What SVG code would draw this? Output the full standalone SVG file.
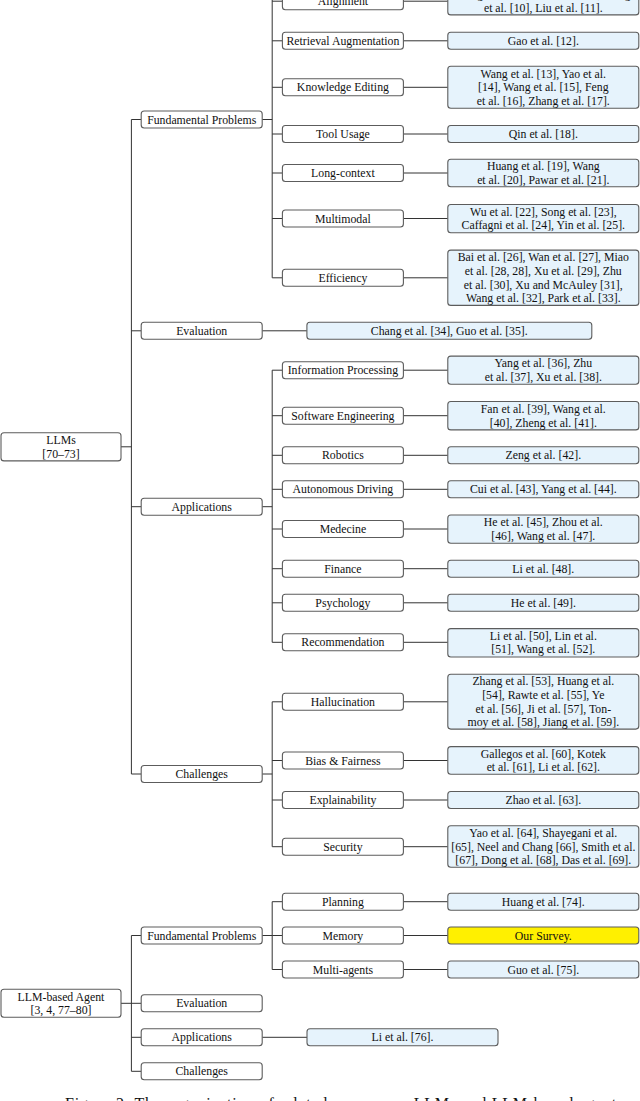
<svg xmlns="http://www.w3.org/2000/svg" width="640" height="1101" viewBox="0 0 640 1101">
<style>
.b{fill:#fff;stroke:#5c5c5c;stroke-width:1.1}
.r{fill:#e6f3fc;stroke:#5c5c5c;stroke-width:1.1}
.y{fill:#fff000;stroke:#5c5c5c;stroke-width:1.1}
.c{fill:none;stroke:#333;stroke-width:1}
text{font-family:"Liberation Serif","Times New Roman",serif;font-size:11.8px;fill:#111;text-anchor:middle}
.cap{font-size:16px;text-anchor:start}
</style>
<rect width="640" height="1101" fill="#fff"/>
<g id="connectors" class="c">
<!-- LLMs tree -->
<path d="M121 446.8H131.4M131.4 119.5V774M131.4 119.5H141.2M131.4 330.8H141.2M131.4 506.7H141.2M131.4 774H141.2"/>
<path d="M262.2 119.5H272.2M272.2 -12V277.8"/>
<path d="M272.2 1.2H282.4M272.2 40.8H282.4M272.2 87.3H282.4M272.2 134H282.4M272.2 173H282.4M272.2 218.5H282.4M272.2 277.8H282.4"/>
<path d="M403.4 1.2H447.8M403.4 40.8H447.8M403.4 87.3H447.8M403.4 134H447.8M403.4 173H447.8M403.4 218.5H447.8M403.4 277.8H447.8"/>
<path d="M262.2 330.8H306.9"/>
<path d="M262.2 506.7H272.2M272.2 370.2V642.3"/>
<path d="M272.2 370.2H282.4M272.2 415.7H282.4M272.2 455.3H282.4M272.2 489.3H282.4M272.2 529H282.4M272.2 568.7H282.4M272.2 602.8H282.4M272.2 642.3H282.4"/>
<path d="M403.4 370.2H447.8M403.4 415.7H447.8M403.4 455.3H447.8M403.4 489.3H447.8M403.4 529H447.8M403.4 568.7H447.8M403.4 602.8H447.8M403.4 642.3H447.8"/>
<path d="M262.2 774H272.2M272.2 701.8V846.7"/>
<path d="M272.2 701.8H282.4M272.2 760.5H282.4M272.2 800H282.4M272.2 846.7H282.4"/>
<path d="M403.4 701.8H447.8M403.4 760.5H447.8M403.4 800H447.8M403.4 846.7H447.8"/>
<!-- Agent tree -->
<path d="M121 1003.3H131.4M131.4 935.5V1071.3M131.4 935.5H141.2M131.4 1003.3H141.2M131.4 1037.3H141.2M131.4 1071.3H141.2"/>
<path d="M262.2 935.5H272.2M272.2 901.7V969.5M272.2 901.7H282.4M272.2 935.5H282.4M272.2 969.5H282.4"/>
<path d="M403.4 901.7H447.8M403.4 935.5H447.8M403.4 969.5H447.8"/>
<path d="M262.2 1037.3H307"/>
</g>

<!-- Roots -->
<g id="llms"><rect class="b" x="1" y="432.7" width="120" height="28.2" rx="3"/><text x="61" y="444">LLMs</text><text x="61" y="457.6">[70–73]</text></g>
<g id="agent"><rect class="b" x="1" y="989.3" width="120" height="28" rx="3"/><text x="61" y="1000.5">LLM-based Agent</text><text x="61" y="1014.1">[3, 4, 77–80]</text></g>

<!-- LLMs level 1 -->
<g id="llm-fp"><rect class="b" x="141.2" y="111" width="121" height="17" rx="3"/><text x="201.7" y="123.5">Fundamental Problems</text></g>
<g id="llm-eval"><rect class="b" x="141.2" y="322.3" width="121" height="17" rx="3"/><text x="201.7" y="334.8">Evaluation</text></g>
<g id="llm-app"><rect class="b" x="141.2" y="498.2" width="121" height="17" rx="3"/><text x="201.7" y="510.7">Applications</text></g>
<g id="llm-chal"><rect class="b" x="141.2" y="765.5" width="121" height="17" rx="3"/><text x="201.7" y="778">Challenges</text></g>

<!-- Fundamental problems children -->
<g id="alignment"><rect class="b" x="282.4" y="-7.3" width="121" height="17" rx="3"/><text x="342.9" y="5.2">Alignment</text></g>
<g id="alignment-ref"><rect class="r" x="447.8" y="-12.5" width="191" height="27.4" rx="3"/><text x="543.3" y="-1.6">Wang et al. [8], Shen et al. [9], Wang</text><text x="543.3" y="12">et al. [10], Liu et al. [11].</text></g>
<g id="retrieval"><rect class="b" x="282.4" y="32.3" width="121" height="17" rx="3"/><text x="342.9" y="44.8">Retrieval Augmentation</text></g>
<g id="retrieval-ref"><rect class="r" x="447.8" y="32.3" width="191" height="17" rx="3"/><text x="543.3" y="44.8">Gao et al. [12].</text></g>
<g id="knowledge"><rect class="b" x="282.4" y="78.8" width="121" height="17" rx="3"/><text x="342.9" y="91.3">Knowledge Editing</text></g>
<g id="knowledge-ref"><rect class="r" x="447.8" y="66.3" width="191" height="42" rx="3"/><text x="543.3" y="77.7">Wang et al. [13], Yao et al.</text><text x="543.3" y="91.3">[14], Wang et al. [15], Feng</text><text x="543.3" y="104.9">et al. [16], Zhang et al. [17].</text></g>
<g id="tool"><rect class="b" x="282.4" y="125.5" width="121" height="17" rx="3"/><text x="342.9" y="138">Tool Usage</text></g>
<g id="tool-ref"><rect class="r" x="447.8" y="125.5" width="191" height="17" rx="3"/><text x="543.3" y="138">Qin et al. [18].</text></g>
<g id="long"><rect class="b" x="282.4" y="164.5" width="121" height="17" rx="3"/><text x="342.9" y="177">Long-context</text></g>
<g id="long-ref"><rect class="r" x="447.8" y="159.3" width="191" height="27.4" rx="3"/><text x="543.3" y="170.2">Huang et al. [19], Wang</text><text x="543.3" y="183.8">et al. [20], Pawar et al. [21].</text></g>
<g id="multimodal"><rect class="b" x="282.4" y="210" width="121" height="17" rx="3"/><text x="342.9" y="222.5">Multimodal</text></g>
<g id="multimodal-ref"><rect class="r" x="447.8" y="204.5" width="191" height="28.2" rx="3"/><text x="543.3" y="215.7">Wu et al. [22], Song et al. [23],</text><text x="543.3" y="229.3">Caffagni et al. [24], Yin et al. [25].</text></g>
<g id="efficiency"><rect class="b" x="282.4" y="269.3" width="121" height="17" rx="3"/><text x="342.9" y="281.8">Efficiency</text></g>
<g id="efficiency-ref"><rect class="r" x="447.8" y="250.1" width="191" height="55.3" rx="3"/><text x="543.3" y="261.4">Bai et al. [26], Wan et al. [27], Miao</text><text x="543.3" y="275">et al. [28, 28], Xu et al. [29], Zhu</text><text x="543.3" y="288.6">et al. [30], Xu and McAuley [31],</text><text x="543.3" y="302.2">Wang et al. [32], Park et al. [33].</text></g>

<!-- Evaluation ref -->
<g id="eval-ref"><rect class="r" x="306.9" y="322.3" width="284.9" height="17" rx="3"/><text x="449.3" y="334.8">Chang et al. [34], Guo et al. [35].</text></g>

<!-- Applications children -->
<g id="info"><rect class="b" x="282.4" y="361.7" width="121" height="17" rx="3"/><text x="342.9" y="374.2">Information Processing</text></g>
<g id="info-ref"><rect class="r" x="447.8" y="356.1" width="191" height="28.2" rx="3"/><text x="543.3" y="367.4">Yang et al. [36], Zhu</text><text x="543.3" y="381">et al. [37], Xu et al. [38].</text></g>
<g id="software"><rect class="b" x="282.4" y="407.2" width="121" height="17" rx="3"/><text x="342.9" y="419.7">Software Engineering</text></g>
<g id="software-ref"><rect class="r" x="447.8" y="401.5" width="191" height="28.4" rx="3"/><text x="543.3" y="412.9">Fan et al. [39], Wang et al.</text><text x="543.3" y="426.5">[40], Zheng et al. [41].</text></g>
<g id="robotics"><rect class="b" x="282.4" y="446.8" width="121" height="17" rx="3"/><text x="342.9" y="459.3">Robotics</text></g>
<g id="robotics-ref"><rect class="r" x="447.8" y="446.8" width="191" height="17" rx="3"/><text x="543.3" y="459.3">Zeng et al. [42].</text></g>
<g id="driving"><rect class="b" x="282.4" y="480.8" width="121" height="17" rx="3"/><text x="342.9" y="493.3">Autonomous Driving</text></g>
<g id="driving-ref"><rect class="r" x="447.8" y="480.8" width="191" height="17" rx="3"/><text x="543.3" y="493.3">Cui et al. [43], Yang et al. [44].</text></g>
<g id="medicine"><rect class="b" x="282.4" y="520.5" width="121" height="17" rx="3"/><text x="342.9" y="533">Medecine</text></g>
<g id="medicine-ref"><rect class="r" x="447.8" y="515" width="191" height="28.2" rx="3"/><text x="543.3" y="526.2">He et al. [45], Zhou et al.</text><text x="543.3" y="539.8">[46], Wang et al. [47].</text></g>
<g id="finance"><rect class="b" x="282.4" y="560.2" width="121" height="17" rx="3"/><text x="342.9" y="572.7">Finance</text></g>
<g id="finance-ref"><rect class="r" x="447.8" y="560.2" width="191" height="17" rx="3"/><text x="543.3" y="572.7">Li et al. [48].</text></g>
<g id="psychology"><rect class="b" x="282.4" y="594.3" width="121" height="17" rx="3"/><text x="342.9" y="606.8">Psychology</text></g>
<g id="psychology-ref"><rect class="r" x="447.8" y="594.3" width="191" height="17" rx="3"/><text x="543.3" y="606.8">He et al. [49].</text></g>
<g id="recommendation"><rect class="b" x="282.4" y="633.8" width="121" height="17" rx="3"/><text x="342.9" y="646.3">Recommendation</text></g>
<g id="recommendation-ref"><rect class="r" x="447.8" y="628.6" width="191" height="28.4" rx="3"/><text x="543.3" y="639.5">Li et al. [50], Lin et al.</text><text x="543.3" y="653.1">[51], Wang et al. [52].</text></g>

<!-- Challenges children -->
<g id="hallucination"><rect class="b" x="282.4" y="693.3" width="121" height="17" rx="3"/><text x="342.9" y="705.8">Hallucination</text></g>
<g id="hallucination-ref"><rect class="r" x="447.8" y="674.3" width="191" height="54.8" rx="3"/><text x="543.3" y="685.4">Zhang et al. [53], Huang et al.</text><text x="543.3" y="699">[54], Rawte et al. [55], Ye</text><text x="543.3" y="712.6">et al. [56], Ji et al. [57], Ton-</text><text x="543.3" y="726.2">moy et al. [58], Jiang et al. [59].</text></g>
<g id="bias"><rect class="b" x="282.4" y="752" width="121" height="17" rx="3"/><text x="342.9" y="764.5">Bias &amp; Fairness</text></g>
<g id="bias-ref"><rect class="r" x="447.8" y="746.6" width="191" height="27.6" rx="3"/><text x="543.3" y="757.7">Gallegos et al. [60], Kotek</text><text x="543.3" y="771.3">et al. [61], Li et al. [62].</text></g>
<g id="explain"><rect class="b" x="282.4" y="791.5" width="121" height="17" rx="3"/><text x="342.9" y="804">Explainability</text></g>
<g id="explain-ref"><rect class="r" x="447.8" y="791.5" width="191" height="17" rx="3"/><text x="543.3" y="804">Zhao et al. [63].</text></g>
<g id="security"><rect class="b" x="282.4" y="838.2" width="121" height="17" rx="3"/><text x="342.9" y="850.7">Security</text></g>
<g id="security-ref"><rect class="r" x="447.8" y="825.7" width="191" height="41.6" rx="3"/><text x="543.3" y="837.1">Yao et al. [64], Shayegani et al.</text><text x="543.3" y="850.7">[65], Neel and Chang [66], Smith et al.</text><text x="543.3" y="864.3">[67], Dong et al. [68], Das et al. [69].</text></g>

<!-- Agent level 1 -->
<g id="agent-fp"><rect class="b" x="141.2" y="927" width="121" height="17" rx="3"/><text x="201.7" y="939.5">Fundamental Problems</text></g>
<g id="agent-eval"><rect class="b" x="141.2" y="994.8" width="121" height="17" rx="3"/><text x="201.7" y="1007.3">Evaluation</text></g>
<g id="agent-app"><rect class="b" x="141.2" y="1028.8" width="121" height="17" rx="3"/><text x="201.7" y="1041.3">Applications</text></g>
<g id="agent-chal"><rect class="b" x="141.2" y="1062.8" width="121" height="17" rx="3"/><text x="201.7" y="1075.3">Challenges</text></g>

<!-- Agent fundamental children -->
<g id="planning"><rect class="b" x="282.4" y="893.2" width="121" height="17" rx="3"/><text x="342.9" y="905.7">Planning</text></g>
<g id="planning-ref"><rect class="r" x="447.8" y="893.2" width="191" height="17" rx="3"/><text x="543.3" y="905.7">Huang et al. [74].</text></g>
<g id="memory"><rect class="b" x="282.4" y="927" width="121" height="17" rx="3"/><text x="342.9" y="939.5">Memory</text></g>
<g id="memory-ref"><rect class="y" x="447.8" y="927" width="191" height="17" rx="3"/><text x="543.3" y="939.5">Our Survey.</text></g>
<g id="multiagents"><rect class="b" x="282.4" y="961" width="121" height="17" rx="3"/><text x="342.9" y="973.5">Multi-agents</text></g>
<g id="multiagents-ref"><rect class="r" x="447.8" y="961" width="191" height="17" rx="3"/><text x="543.3" y="973.5">Guo et al. [75].</text></g>
<g id="agent-app-ref"><rect class="r" x="307" y="1028.8" width="191" height="17" rx="3"/><text x="402.5" y="1041.3">Li et al. [76].</text></g>

<text class="cap" x="65" y="1108.5" textLength="563" lengthAdjust="spacing">Figure 2: The organization of related surveys on LLMs and LLM-based agents.</text>
</svg>
